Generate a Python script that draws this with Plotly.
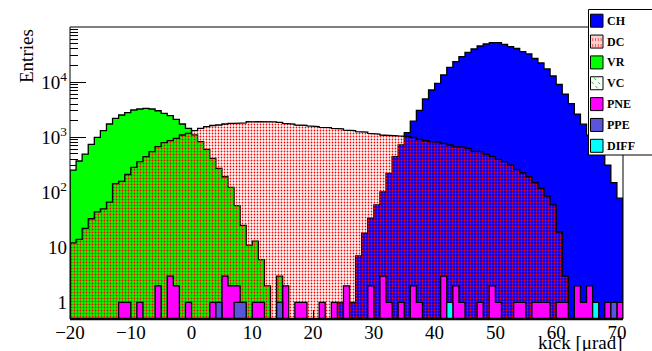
import math
import plotly.graph_objects as go

# Histogram binning: 1 urad bins from -20 to 71
X_MIN = -20
BIN_W = 1
N_BINS = 91
FLOOR = 1e-2  # stand-in for empty bins on the log axis (below the visible range)

# Bin contents per category (bin i covers [X_MIN + i, X_MIN + i + 1))
CH = [0] * 44 + [
    1, 0, 1, 7, 18, 34, 59, 102, 221, 442,
    721, 1205, 1950, 3070, 4950, 7180, 9500, 13450, 18550, 23450,
    28900, 34740, 39900, 45200, 49100, 51900, 51900, 48200, 44200, 40700,
    35600, 32400, 26800, 22200, 17300, 12900, 9030, 6060, 4080, 2630,
    1720, 1090, 690, 480, 312, 149, 78,
]
DC = [
    12, 14, 22, 33, 44, 50, 66, 143, 158, 210,
    284, 359, 442, 545, 671, 793, 862, 953, 1094, 1175,
    1310, 1448, 1549, 1630, 1663, 1733, 1786, 1786, 1810, 1908,
    1950, 1908, 1908, 1890, 1850, 1780, 1733, 1663, 1640, 1595,
    1560, 1511, 1490, 1448, 1420, 1340, 1320, 1256, 1230, 1175,
    1141, 1094, 1080, 1060, 1050, 1020, 993, 914, 862, 828,
    810, 774, 721, 671, 660, 628, 560, 545, 494, 442,
    396, 359, 312, 261, 226, 191, 149, 118, 85, 59,
    19, 3, 0, 0, 0, 0, 0, 0, 0, 0, 0,
]
VR = [
    253, 369, 494, 742, 993, 1310, 1733, 2200, 2525, 2780,
    3112, 3245, 3342, 3245, 3020, 2710, 2453, 2110, 1733, 1448,
    1100, 828, 602, 413, 272, 191, 123, 57, 25, 11,
    13, 6, 2, 0, 3,
] + [0] * 56
VC = [0] * N_BINS
PNE = [0] * N_BINS
for b, n in [(8, 1), (9, 1), (11, 1), (14, 2), (16, 3), (17, 2), (19, 1), (23, 1),
             (25, 3), (26, 2), (27, 2), (30, 1), (31, 1), (35, 2), (37, 1), (38, 1),
             (41, 1), (43, 1), (45, 2), (49, 2), (51, 3), (52, 1), (54, 1), (56, 2),
             (57, 1), (61, 3), (63, 2), (64, 1), (67, 1), (69, 2), (70, 1), (73, 1),
             (74, 1), (76, 1), (77, 1), (78, 1), (80, 1), (81, 1), (83, 2), (84, 1),
             (85, 2), (88, 1), (90, 1)]:
    PNE[b] = n
PPE = [0] * N_BINS
for b, n in [(24, 1), (27, 1), (28, 1), (34, 1), (89, 1)]:
    PPE[b] = n
DIFF = [0] * N_BINS
for b, n in [(62, 1), (86, 1)]:
    DIFF[b] = n

X_TICKS = [-20, -10, 0, 10, 20, 30, 40, 50, 60, 70]
Y_TICKS = [1, 10, 100, 1000, 10000]
Y_TICK_TEXT = ["1", "10", "10<sup>2</sup>", "10<sup>3</sup>", "10<sup>4</sup>"]

SERIF = "Liberation Serif"

# Figure geometry (pixels)
W, H = 652, 351
ML, MR, MT, MB = 70, 29, 27, 32
PW, PH = W - ML - MR, H - MT - MB


def px_x(px):
    return (px - ML) / PW


def px_y(py):
    return (H - MB - py) / PH


def outline(values):
    """Closed step contour of a histogram, dropping to the floor for empty bins."""
    xs, ys = [X_MIN], [FLOOR]
    for i, v in enumerate(values):
        lo = X_MIN + i * BIN_W
        hi = lo + BIN_W
        h = v if v > 0 else FLOOR
        xs += [lo, hi]
        ys += [h, h]
    xs.append(X_MIN + len(values) * BIN_W)
    ys.append(FLOOR)
    return xs, ys


fig = go.Figure()

styles = [
    ("CH", CH, dict(fillcolor="#0000ff")),
    ("VR", VR, dict(fillcolor="#00ff00")),
    ("VC", VC, dict(fillcolor="rgba(0,0,0,0)",
                    fillpattern=dict(shape="\\", fgcolor="#00cc00", bgcolor="white",
                                     size=6, solidity=0.2))),
    ("DC", DC, dict(fillcolor="#ff0000",
                    fillpattern=dict(shape=".", fgcolor="#ff0000",
                                     bgcolor="rgba(0,0,0,0)", size=3, solidity=0.28,
                                     fillmode="replace"))),
    ("PNE", PNE, dict(fillcolor="#ff00ff")),
    ("PPE", PPE, dict(fillcolor="#5954d9")),
    ("DIFF", DIFF, dict(fillcolor="#00ffff")),
]

for name, vals, st in styles:
    xs, ys = outline(vals)
    fig.add_trace(go.Scatter(
        x=xs, y=ys, mode="lines", fill="toself", name=name,
        line=dict(color="black", width=1.3), showlegend=False,
        hoverinfo="skip", **st,
    ))

minor_vals = [m * 10 ** d for d in range(0, 5) for m in range(2, 10)]

fig.update_layout(
    width=W, height=H,
    margin=dict(l=ML, r=MR, t=MT, b=MB, autoexpand=False),
    plot_bgcolor="white", paper_bgcolor="white",
    font=dict(family=SERIF, size=19, color="black"),
    showlegend=False,
    xaxis=dict(
        range=[X_MIN, X_MIN + N_BINS * BIN_W], tickvals=X_TICKS,
        ticks="inside", ticklen=9, tickcolor="black", tickwidth=1,
        showgrid=False, zeroline=False, showline=False, layer="below traces",
        tickfont=dict(family=SERIF, size=19), ticklabelstandoff=0,
        automargin=False,
    ),
    yaxis=dict(
        type="log", range=[math.log10(0.5), 5],
        tickvals=Y_TICKS, ticktext=Y_TICK_TEXT,
        ticks="inside", ticklen=16, tickcolor="black", tickwidth=1,
        minor=dict(tickvals=minor_vals, ticks="inside", ticklen=8,
                   tickcolor="black", tickwidth=1),
        showgrid=False, zeroline=False, showline=False, layer="below traces",
        tickfont=dict(family=SERIF, size=19), ticklabelstandoff=2,
        automargin=False,
    ),
)

shapes = [
    dict(type="rect", xref="paper", yref="paper", x0=0, x1=1, y0=0, y1=1,
         line=dict(color="black", width=1), layer="above"),
    dict(type="line", xref="paper", yref="paper", x0=0, x1=1, y0=0, y1=0,
         line=dict(color="black", width=2.5), layer="above"),
]
annotations = [
    dict(text="Entries", xref="paper", yref="paper", x=px_x(26), y=1,
         xanchor="center", yanchor="top", textangle=-90, showarrow=False,
         font=dict(family=SERIF, size=19)),
    dict(text="kick [μrad]", xref="paper", yref="paper", x=1, y=px_y(343),
         xanchor="right", yanchor="middle", xshift=2, showarrow=False,
         font=dict(family=SERIF, size=19)),
]

# Legend box (top right, running past the right edge)
shapes.append(dict(type="rect", xref="paper", yref="paper",
                   x0=px_x(588.5), x1=px_x(660), y0=px_y(155), y1=px_y(9.5),
                   fillcolor="white", line=dict(color="black", width=1), layer="above"))

legend_items = [
    ("CH", "#0000ff"), ("DC", "#fad2d2"), ("VR", "#00ff00"), ("VC", "white"),
    ("PNE", "#ff00ff"), ("PPE", "#5954d9"), ("DIFF", "#00ffff"),
]
sx0, sx1 = 590.5, 603.0
for k, (label, col) in enumerate(legend_items):
    cy = 20.7 + k * 20.85
    y0, y1 = cy + 6.5, cy - 6.5
    shapes.append(dict(type="rect", xref="paper", yref="paper",
                       x0=px_x(sx0), x1=px_x(sx1), y0=px_y(y0), y1=px_y(y1),
                       fillcolor=col, line=dict(color="black", width=1), layer="above"))
    if label == "DC":
        for j in range(4):
            lx = sx0 + 2.2 + j * 2.8
            shapes.append(dict(type="line", xref="paper", yref="paper",
                               x0=px_x(lx), x1=px_x(lx), y0=px_y(y0 - 1), y1=px_y(y1 + 1),
                               line=dict(color="#ff3030", width=0.8, dash="dot"),
                               layer="above"))
    if label == "VC":
        for off in (-4.0, 2.5):
            shapes.append(dict(type="line", xref="paper", yref="paper",
                               x0=px_x(sx0 + 1 + max(0, off)), y0=px_y(y1 + 1 + max(0, -off)),
                               x1=px_x(sx1 - 1 - max(0, -off)), y1=px_y(y0 - 1 - max(0, off)),
                               line=dict(color="#22bb22", width=1, dash="dot"),
                               layer="above"))
    annotations.append(dict(text=f"<b>{label}</b>", xref="paper", yref="paper",
                            x=px_x(605), y=px_y(cy), xanchor="left", yanchor="middle",
                            showarrow=False, font=dict(family=SERIF, size=12)))

fig.update_layout(shapes=shapes, annotations=annotations)

fig.write_html("out.html")
